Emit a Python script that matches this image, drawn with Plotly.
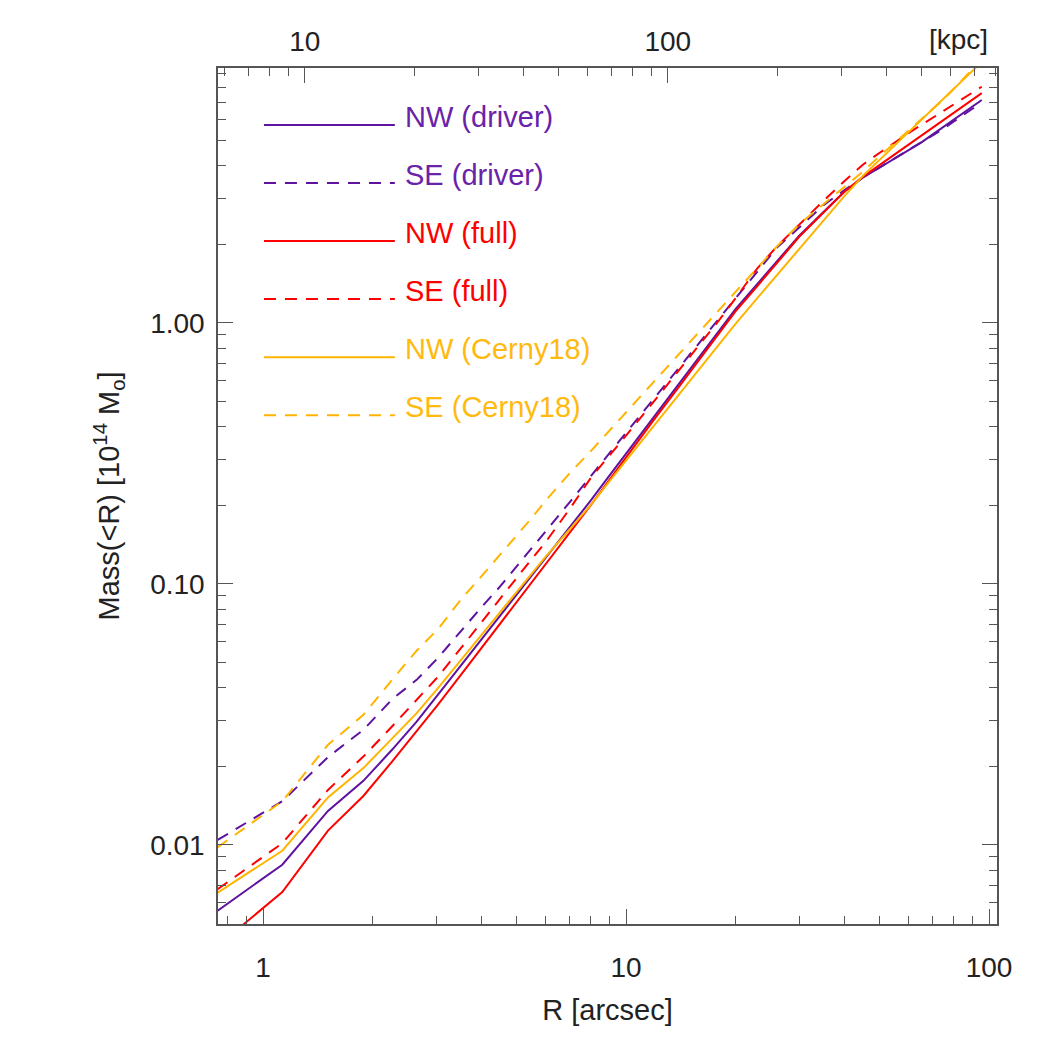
import math
import plotly.graph_objects as go

# ---------------- data ----------------
R_arcsec = [0.75, 1.13, 1.51, 1.89, 2.27, 2.65, 3.03, 3.5, 4.0, 4.5, 5.0, 5.5, 6.0, 7.0, 8.0,
            9.0, 10, 12, 14, 16, 18, 20, 23, 26, 30, 35, 40, 45, 50, 55, 60, 65, 70, 75,
            80, 85, 90, 95.5]

nw_driver = [0.0056, 0.0084, 0.0135, 0.0176, 0.0232, 0.0297, 0.0376, 0.0485, 0.0614, 0.0756,
             0.091, 0.1077, 0.1256, 0.165, 0.209, 0.260, 0.315, 0.441, 0.585, 0.748, 0.929,
             1.128, 1.413, 1.72, 2.16, 2.66, 3.19, 3.61, 3.94, 4.27, 4.59, 4.91, 5.28, 5.65,
             6.01, 6.38, 6.74, 7.15]

se_driver = [0.01045, 0.0147, 0.0217, 0.0276, 0.0362, 0.0429, 0.052, 0.066, 0.0815, 0.0978,
             0.1166, 0.137, 0.159, 0.206, 0.259, 0.317, 0.379, 0.518, 0.674, 0.847, 1.037,
             1.24, 1.577, 1.94, 2.32, 2.83, 3.23, 3.625, 3.95, 4.28, 4.61, 4.94, 5.22, 5.55,
             5.92, 6.28, 6.62, 6.95]

nw_full = [0.0041, 0.0066, 0.01135, 0.0154, 0.0209, 0.0272, 0.0344, 0.0446, 0.0568, 0.0703,
           0.0851, 0.1012, 0.1187, 0.157, 0.2006, 0.2505, 0.3056, 0.430, 0.570, 0.733, 0.910,
           1.105, 1.385, 1.694, 2.14, 2.65, 3.19, 3.636, 4.03, 4.43, 4.82, 5.21, 5.61, 6.0,
           6.39, 6.78, 7.17, 7.6]

se_full = [0.00677, 0.01015, 0.01625, 0.0218, 0.0285, 0.0358, 0.0440, 0.0565, 0.0715, 0.088,
           0.105, 0.1247, 0.1445, 0.194, 0.255, 0.31, 0.37, 0.505, 0.66, 0.83, 1.02,
           1.24, 1.62, 1.958, 2.39, 2.94, 3.50, 4.05, 4.49, 4.93, 5.34, 5.73, 6.11, 6.49,
           6.87, 7.25, 7.63, 8.04]

nw_cerny = [0.00656, 0.0095, 0.0152, 0.0197, 0.0256, 0.032, 0.0398, 0.0509, 0.0638, 0.078,
            0.0933, 0.1096, 0.127, 0.162, 0.201, 0.247, 0.2965, 0.407, 0.532, 0.672, 0.825,
            0.990, 1.245, 1.52, 1.92, 2.47, 3.07, 3.67, 4.23, 4.80, 5.39, 5.99, 6.61, 7.25,
            7.90, 8.56, 9.24, 10.0]

se_cerny = [0.0098, 0.0147, 0.0242, 0.0315, 0.043, 0.0555, 0.067, 0.0867, 0.1071, 0.1293,
            0.1534, 0.179, 0.208, 0.266, 0.323, 0.387, 0.454, 0.60, 0.76, 0.933, 1.117,
            1.31, 1.63, 1.96, 2.39, 2.85, 3.31, 3.81, 4.36, 4.91, 5.46, 6.01, 6.58, 7.19,
            7.90, 8.64, 9.40, 10.24]

series_names = ["NW (driver)", "SE (driver)", "NW (full)", "SE (full)", "NW (Cerny18)", "SE (Cerny18)"]
series_values = [nw_driver, se_driver, nw_full, se_full, nw_cerny, se_cerny]

x_tickvals = [1, 10, 100]
x_ticktext = ["1", "10", "100"]
y_tickvals = [0.01, 0.1, 1]
y_ticktext = ["0.01", "0.10", "1.00"]
kpc_tickvals = [10, 100]
kpc_ticktext = ["10", "100"]
KPC_PER_ARCSEC = 7.67

# ---------------- styling ----------------
PURPLE = "#5E12A0"
RED = "#FF0000"
GOLD = "#FFB400"
colors = [PURPLE, PURPLE, RED, RED, GOLD, GOLD]
text_colors = ["#6A22A8", "#6A22A8", RED, RED, "#FFBA10", "#FFBA10"]
DASH = "12px,9px"
dashes = ["solid", DASH, "solid", DASH, "solid", DASH]
AX = "#555555"
TXT = "#222222"
FONT = "Liberation Sans, Arial, Helvetica, sans-serif"

x_log_range = [-0.124, 2.022]
y_log_range = [-2.303, 0.977]
kpc_log_range = [x_log_range[0] + math.log10(KPC_PER_ARCSEC),
                 x_log_range[1] + math.log10(KPC_PER_ARCSEC)]


def minor_vals(lo_exp, hi_exp):
    return [m * 10.0 ** e for e in range(lo_exp, hi_exp + 1) for m in range(2, 10)]


fig = go.Figure()
for name, vals, c, d in zip(series_names, series_values, colors, dashes):
    fig.add_trace(go.Scatter(x=R_arcsec, y=vals, mode="lines", name=name,
                             line=dict(color=c, width=2, dash=d), showlegend=False))
# empty trace so that the kpc axis is drawn
fig.add_trace(go.Scatter(x=[], y=[], xaxis="x2", yaxis="y", showlegend=False))

tick_common = dict(ticks="inside", tickwidth=1.2, tickcolor=AX, showline=True, linecolor=AX,
                   linewidth=1.5, showgrid=False, zeroline=False,
                   tickfont=dict(family=FONT, size=28, color=TXT))

fig.update_layout(
    width=1063, height=1063,
    margin=dict(l=218, r=66, t=68, b=139),
    paper_bgcolor="white", plot_bgcolor="white",
    font=dict(family=FONT, color=TXT),
    xaxis=dict(type="log", range=x_log_range, tickmode="array", tickvals=x_tickvals,
               ticktext=x_ticktext, ticklen=15, mirror=False, ticklabelstandoff=18,
               minor=dict(tickvals=minor_vals(-1, 1), ticks="inside", ticklen=8,
                          tickwidth=1.2, tickcolor=AX, showgrid=False),
               title=dict(text="R [arcsec]", font=dict(family=FONT, size=29, color=TXT),
                          standoff=17),
               **tick_common),
    yaxis=dict(type="log", range=y_log_range, tickmode="array", tickvals=y_tickvals,
               ticktext=y_ticktext, ticklen=15, mirror="ticks", ticklabelstandoff=6,
               minor=dict(tickvals=minor_vals(-3, 0), ticks="inside", ticklen=8,
                          tickwidth=1.2, tickcolor=AX, showgrid=False),
               title=dict(text="Mass(<R) [10<sup>14</sup> M<sub>o</sub>]",
                          font=dict(family=FONT, size=29, color=TXT), standoff=22),
               **tick_common),
    xaxis2=dict(type="log", overlaying="x", side="top", anchor="y", range=kpc_log_range,
                tickmode="array", tickvals=kpc_tickvals, ticktext=kpc_ticktext, ticklen=15,
                mirror=False, ticklabelstandoff=4,
                minor=dict(tickvals=minor_vals(0, 2), ticks="inside", ticklen=8,
                           tickwidth=1.2, tickcolor=AX, showgrid=False),
                **tick_common),
)

fig.add_annotation(text="[kpc]", xref="paper", yref="paper", x=0.95, y=1.033,
                   showarrow=False, font=dict(family=FONT, size=28, color=TXT),
                   xanchor="center", yanchor="middle")

# legend drawn as long line samples with coloured labels (as in the reference)
leg_x0, leg_x1, leg_text_x = 0.059, 0.227, 0.2375
leg_top, leg_step = 0.9334, 0.0678
for i, (name, c, tc, d) in enumerate(zip(series_names, colors, text_colors, dashes)):
    yy = leg_top - i * leg_step
    fig.add_shape(type="line", xref="paper", yref="paper", x0=leg_x0, x1=leg_x1, y0=yy, y1=yy,
                  line=dict(color=c, width=2, dash=d))
    fig.add_annotation(text=name, xref="paper", yref="paper", x=leg_text_x, y=yy + 0.0095,
                       showarrow=False, xanchor="left", yanchor="middle",
                       font=dict(family=FONT, size=29, color=tc))

fig.write_html("out.html")
